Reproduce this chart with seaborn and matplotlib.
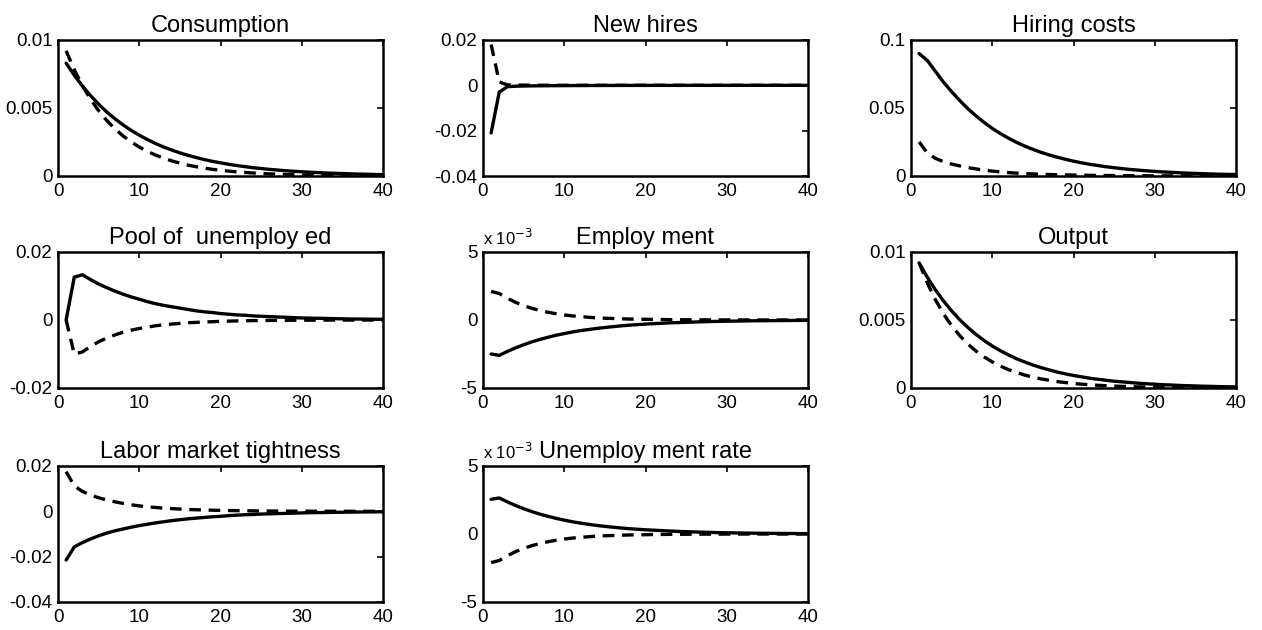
import matplotlib
matplotlib.use('Agg')
import matplotlib.pyplot as plt
import seaborn as sns
import numpy as np
import pandas as pd

sns.set_style('white')
plt.rcParams['font.family'] = ['Liberation Sans', 'DejaVu Sans']
plt.rcParams['text.color'] = 'black'

periods = list(range(1, 41))

# impulse responses: solid = baseline, dashed = alternative
consumption_solid = [0.00830, 0.00741, 0.00662, 0.00591, 0.00528, 0.00471, 0.00421, 0.00376, 0.00336, 0.00300,
                     0.00268, 0.00239, 0.00213, 0.00191, 0.00170, 0.00152, 0.00136, 0.00121, 0.00108, 0.00097,
                     0.00086, 0.00077, 0.00069, 0.00061, 0.00055, 0.00049, 0.00044, 0.00039, 0.00035, 0.00031,
                     0.00028, 0.00025, 0.00022, 0.00020, 0.00018, 0.00016, 0.00014, 0.00013, 0.00011, 0.00010]
consumption_dashed = [0.00920, 0.00782, 0.00665, 0.00565, 0.00480, 0.00408, 0.00347, 0.00295, 0.00251, 0.00213,
                      0.00181, 0.00154, 0.00131, 0.00111, 0.00095, 0.00080, 0.00068, 0.00058, 0.00049, 0.00042,
                      0.00036, 0.00030, 0.00026, 0.00022, 0.00019, 0.00016, 0.00013, 0.00011, 0.00010, 0.00008,
                      0.00007, 0.00006, 0.00005, 0.00004, 0.00004, 0.00003, 0.00003, 0.00002, 0.00002, 0.00002]

hires_solid = [-0.0210, -0.0030, -0.0006, -0.0004, -0.0003, -0.00025, -0.0002, -0.00018, -0.00015, -0.00013,
               -0.00011, -0.0001, -0.00008, -0.00007, -0.00006, -0.00005, -0.00004, -0.00004, -0.00003, -0.00003,
               -0.00002, -0.00002, -0.00002, -0.00002, -0.00001, -0.00001, -0.00001, -0.00001, -0.00001, -0.00001,
               0, 0, 0, 0, 0, 0, 0, 0, 0, 0]
hires_dashed = [0.0180, 0.0015, 0.0002, 0.0001, 0.0001, 0.00005, 0.00004, 0.00003, 0.00002, 0.00002,
                0.00001, 0.00001, 0.00001, 0, 0, 0, 0, 0, 0, 0,
                0, 0, 0, 0, 0, 0, 0, 0, 0, 0,
                0, 0, 0, 0, 0, 0, 0, 0, 0, 0]

hiring_solid = [0.090, 0.085, 0.077, 0.069, 0.062, 0.0555, 0.0495, 0.0442, 0.0394, 0.0350,
                0.0312, 0.0278, 0.0247, 0.0220, 0.0196, 0.0174, 0.0155, 0.0138, 0.0123, 0.0109,
                0.0097, 0.0086, 0.0077, 0.0068, 0.0061, 0.0054, 0.0048, 0.0043, 0.0038, 0.0034,
                0.0030, 0.0027, 0.0024, 0.0021, 0.0019, 0.0017, 0.0015, 0.0013, 0.0012, 0.0011]
hiring_dashed = [0.025, 0.017, 0.013, 0.0105, 0.0088, 0.0074, 0.0062, 0.0052, 0.0043, 0.0036,
                 0.0030, 0.0025, 0.0021, 0.0018, 0.0015, 0.0013, 0.0011, 0.0009, 0.0008, 0.0007,
                 0.0006, 0.0005, 0.0004, 0.00035, 0.0003, 0.00025, 0.0002, 0.00018, 0.00015, 0.00013,
                 0.00011, 0.0001, 0.00008, 0.00007, 0.00006, 0.00005, 0.00004, 0.00004, 0.00003, 0.00003]

pool_solid = [0.0, 0.0126, 0.0133, 0.0119, 0.0106, 0.0095, 0.0085, 0.0076, 0.0068, 0.0061,
              0.0054, 0.0048, 0.0043, 0.0039, 0.0035, 0.0031, 0.0027, 0.0024, 0.0022, 0.0019,
              0.0017, 0.0015, 0.0014, 0.0012, 0.0011, 0.0010, 0.0009, 0.0008, 0.0007, 0.0006,
              0.00055, 0.0005, 0.00045, 0.0004, 0.00035, 0.0003, 0.00028, 0.00025, 0.00022, 0.0002]
pool_dashed = [0.0, -0.0100, -0.0094, -0.0078, -0.0064, -0.0053, -0.0044, -0.0036, -0.0030, -0.0025,
               -0.0021, -0.0017, -0.0014, -0.0012, -0.0010, -0.0008, -0.0007, -0.0006, -0.0005, -0.0004,
               -0.00033, -0.00027, -0.00022, -0.00018, -0.00015, -0.00012, -0.0001, -0.00008, -0.00007, -0.00006,
               -0.00005, -0.00004, -0.00003, -0.00003, -0.00002, -0.00002, -0.00002, -0.00001, -0.00001, -0.00001]

# employment and unemployment rate in units of 1e-3
employment_solid = [-2.50, -2.60, -2.31, -2.05, -1.82, -1.61, -1.43, -1.27, -1.12, -1.00,
                    -0.88, -0.78, -0.70, -0.62, -0.55, -0.49, -0.43, -0.38, -0.34, -0.30,
                    -0.27, -0.24, -0.21, -0.19, -0.17, -0.15, -0.13, -0.11, -0.10, -0.09,
                    -0.08, -0.07, -0.06, -0.055, -0.05, -0.045, -0.04, -0.035, -0.03, -0.027]
employment_dashed = [2.10, 1.95, 1.60, 1.30, 1.06, 0.86, 0.70, 0.57, 0.46, 0.37,
                     0.30, 0.25, 0.20, 0.16, 0.13, 0.11, 0.09, 0.07, 0.06, 0.05,
                     0.04, 0.033, 0.027, 0.022, 0.018, 0.015, 0.012, 0.01, 0.008, 0.007,
                     0.005, 0.004, 0.0035, 0.003, 0.0025, 0.002, 0.0015, 0.0012, 0.001, 0.001]

output_solid = [0.00920, 0.00815, 0.00722, 0.00640, 0.00567, 0.00502, 0.00445, 0.00394, 0.00349, 0.00309,
                0.00274, 0.00243, 0.00215, 0.00191, 0.00169, 0.00150, 0.00133, 0.00117, 0.00104, 0.00092,
                0.00082, 0.00072, 0.00064, 0.00057, 0.00050, 0.00045, 0.00040, 0.00035, 0.00031, 0.00028,
                0.00024, 0.00022, 0.00019, 0.00017, 0.00015, 0.00013, 0.00012, 0.00010, 0.00009, 0.00008]
output_dashed = [0.00920, 0.00773, 0.00649, 0.00545, 0.00458, 0.00385, 0.00323, 0.00271, 0.00228, 0.00192,
                 0.00161, 0.00135, 0.00114, 0.00095, 0.00080, 0.00067, 0.00057, 0.00047, 0.00040, 0.00033,
                 0.00028, 0.00024, 0.00020, 0.00017, 0.00014, 0.00012, 0.00010, 0.00008, 0.00007, 0.00006,
                 0.00005, 0.00004, 0.00003, 0.00003, 0.00002, 0.00002, 0.00002, 0.00001, 0.00001, 0.00001]

tightness_solid = [-0.0215, -0.0157, -0.0138, -0.0122, -0.0108, -0.0096, -0.0086, -0.0078, -0.0070, -0.0063,
                   -0.0057, -0.0051, -0.0046, -0.0041, -0.0037, -0.0033, -0.0030, -0.0027, -0.0024, -0.0022,
                   -0.0019, -0.0017, -0.0015, -0.0014, -0.0012, -0.0011, -0.0010, -0.0009, -0.0008, -0.0007,
                   -0.0006, -0.00055, -0.0005, -0.00045, -0.0004, -0.00035, -0.0003, -0.00027, -0.00024, -0.0002]
tightness_dashed = [0.0175, 0.0112, 0.0088, 0.0072, 0.0060, 0.0050, 0.0042, 0.0035, 0.0029, 0.0024,
                    0.0020, 0.0017, 0.0014, 0.0012, 0.0010, 0.0008, 0.0007, 0.0006, 0.0005, 0.0004,
                    0.00035, 0.0003, 0.00025, 0.0002, 0.00017, 0.00014, 0.00012, 0.0001, 0.00008, 0.00007,
                    0.00006, 0.00005, 0.00004, 0.00003, 0.00003, 0.00002, 0.00002, 0.00002, 0.00001, 0.00001]

urate_solid = [2.55, 2.65, 2.36, 2.10, 1.86, 1.65, 1.46, 1.30, 1.15, 1.02,
               0.90, 0.80, 0.71, 0.63, 0.56, 0.50, 0.44, 0.39, 0.35, 0.31,
               0.28, 0.25, 0.22, 0.19, 0.17, 0.15, 0.13, 0.12, 0.10, 0.09,
               0.08, 0.07, 0.06, 0.055, 0.05, 0.045, 0.04, 0.035, 0.03, 0.028]
urate_dashed = [-2.10, -1.95, -1.60, -1.30, -1.06, -0.86, -0.70, -0.57, -0.46, -0.37,
                -0.30, -0.25, -0.20, -0.16, -0.13, -0.11, -0.09, -0.07, -0.06, -0.05,
                -0.04, -0.033, -0.027, -0.022, -0.018, -0.015, -0.012, -0.01, -0.008, -0.007,
                -0.005, -0.004, -0.0035, -0.003, -0.0025, -0.002, -0.0015, -0.0012, -0.001, -0.001]

titles = ['Consumption', 'New hires', 'Hiring costs',
          'Pool of  unemploy ed', 'Employ ment', 'Output',
          'Labor market tightness', 'Unemploy ment rate']
solids = [consumption_solid, hires_solid, hiring_solid, pool_solid, employment_solid,
          output_solid, tightness_solid, urate_solid]
dashes = [consumption_dashed, hires_dashed, hiring_dashed, pool_dashed, employment_dashed,
          output_dashed, tightness_dashed, urate_dashed]
yticks = [[0, 0.005, 0.01], [-0.04, -0.02, 0, 0.02], [0, 0.05, 0.1],
          [-0.02, 0, 0.02], [-5, 0, 5], [0, 0.005, 0.01],
          [-0.04, -0.02, 0, 0.02], [-5, 0, 5]]
ytick_labels = [['0', '0.005', '0.01'], ['-0.04', '-0.02', '0', '0.02'], ['0', '0.05', '0.1'],
                ['-0.02', '0', '0.02'], ['-5', '0', '5'], ['0', '0.005', '0.01'],
                ['-0.04', '-0.02', '0', '0.02'], ['-5', '0', '5']]
scaled = [False, False, False, False, True, False, False, True]

fig = plt.figure(figsize=(12.62, 6.30), dpi=100)
lefts = [58 / 1262, 483 / 1262, 911 / 1262]
bottoms = [1 - 176 / 630, 1 - 388 / 630, 1 - 602 / 630]
w = 325 / 1262
h = 136 / 630

for i in range(8):
    r, c = divmod(i, 3)
    ax = fig.add_axes([lefts[c], bottoms[r], w, h])
    df = pd.DataFrame({'t': periods, 'solid': solids[i], 'dashed': dashes[i]})
    sns.lineplot(data=df, x='t', y='solid', ax=ax, color='black', linewidth=2.4)
    sns.lineplot(data=df, x='t', y='dashed', ax=ax, color='black', linewidth=2.4,
                 linestyle=(0, (3.5, 2.3)))
    ax.set_xlim(0, 40)
    ax.set_ylim(yticks[i][0], yticks[i][-1])
    ax.set_xticks([0, 10, 20, 30, 40])
    ax.set_yticks(yticks[i])
    ax.set_yticklabels(ytick_labels[i])
    ax.set_xlabel('')
    ax.set_ylabel('')
    ax.tick_params(axis='both', direction='in', length=4, width=1.2, top=True, right=True,
                   labelsize=13.5, colors='black')
    ax.tick_params(axis='x', pad=5)
    ax.tick_params(axis='y', pad=4)
    for s in ax.spines.values():
        s.set_linewidth(1.8)
        s.set_color('black')
    ax.set_title(titles[i], fontsize=17, pad=6, color='black')
    if scaled[i]:
        ax.text(0.0, 1.03, r'x 10$^{-3}$', transform=ax.transAxes, fontsize=12,
                ha='left', va='bottom', color='black')

fig.savefig('out.png', dpi=100)
